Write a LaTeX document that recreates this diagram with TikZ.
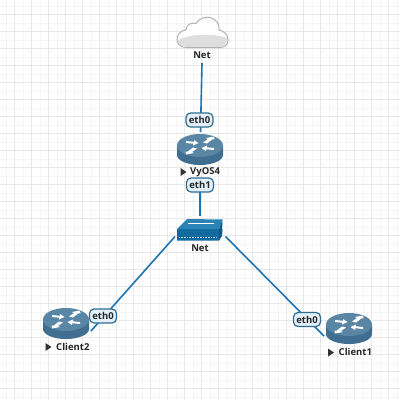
\documentclass[tikz,border=0pt]{standalone}
\usepackage{fontspec}
\setmainfont{Open Sans}
\definecolor{rtr}{HTML}{3F6E91}
\definecolor{rtrtop}{HTML}{5A86A6}
\definecolor{link}{HTML}{1C74B4}
\definecolor{swc}{HTML}{136A9E}
\definecolor{swt}{HTML}{2B82B5}
\definecolor{lblfill}{HTML}{E3F0FA}
\definecolor{lblline}{HTML}{2F6C94}
\definecolor{gmin}{HTML}{F5F5F5}
\definecolor{gmaj}{HTML}{E8E8E8}
\tikzset{
  x=1pt,y=-1pt,
  linkline/.style={draw=link,line width=1.6pt},
  portlbl/.style={draw=lblline,fill=lblfill,rounded corners=4.5pt,line width=1.2pt,inner sep=0pt,minimum width=27pt,minimum height=14pt,font=\fontsize{9.5}{10}\selectfont\bfseries,text=black!85},
  devlbl/.style={inner sep=0pt,font=\fontsize{9.5}{10}\selectfont\bfseries,text=black!85},
  devanchor/.style={inner sep=0pt,minimum width=46pt,minimum height=30pt},
  runmark/.style={fill=black!80,draw=none}
}
\newcommand{\routericon}[2]{%
  \begin{scope}[shift={(#1,#2)}]
    \fill[rtr] (-23,-3.5) -- (-23,6) arc[x radius=23,y radius=10,start angle=180,end angle=0] -- (23,-3.5) -- cycle;
    \fill[rtrtop] (0,-3.5) ellipse[x radius=23,y radius=11.5];
    \fill[white] (-14,-8) -- (-6,-7.2) -- (-6,-9) -- (-1.5,-6) -- (-7,-3.5) -- (-6.8,-5.3) -- (-14,-6) -- cycle;
    \fill[white] (14,1) -- (6,0.2) -- (6,2) -- (1.5,-1) -- (7,-3.5) -- (6.8,-1.7) -- (14,-1) -- cycle;
    \fill[white] (3,-6.5) -- (8,-10) -- (6,-11) -- (14,-12.5) -- (14.5,-9.5) -- (12.5,-9.7) -- (7,-5.5) -- cycle;
    \fill[white] (-3,-0.5) -- (-8,3) -- (-6,4) -- (-14,5.5) -- (-14.5,2.5) -- (-12.5,2.7) -- (-7,-1.5) -- cycle;
  \end{scope}}
\begin{document}
\begin{tikzpicture}
\useasboundingbox (0,0) rectangle (400,400);
\fill[white] (0,0) rectangle (400,400);
% grid
\foreach \i in {-1,...,47}{
  \pgfmathsetmacro{\p}{5.9+8.5*\i}
  \draw[gmin,line width=0.8pt] (\p,0) -- (\p,400);
  \draw[gmin,line width=0.8pt] (0,\p) -- (400,\p);
}
\foreach \i in {-1,...,23}{
  \pgfmathsetmacro{\p}{14.5+17*\i}
  \draw[gmaj,line width=0.8pt] (\p,0) -- (\p,400);
  \draw[gmaj,line width=0.8pt] (0,\p) -- (400,\p);
}
% cloud
\node[inner sep=0pt,minimum width=52pt,minimum height=31pt] (cloud) at (202.5,32.5) {};
\fill[white,draw=black!30,line width=1pt]
  (186,47.5) .. controls (180,47.5) and (177,43.5) .. (177,39.5)
  .. controls (177,34) and (181,30.5) .. (186,30)
  .. controls (186,25) and (191,22) .. (196,23.5)
  .. controls (199,18.5) and (205,16.5) .. (210,17.5)
  .. controls (216,19) and (220,24) .. (219,30)
  .. controls (224.5,31) and (228,35) .. (228,40)
  .. controls (228,44.5) and (225,47.5) .. (220,47.5) -- cycle;
\fill[black!13]
  (178,40) .. controls (190,34) and (212,33) .. (227,38)
  .. controls (228,43) and (224,46.8) .. (220,46.8) -- (186,46.8)
  .. controls (181,46.8) and (178,44) .. (178,40) -- cycle;
\node[devlbl] (netlbl) at (202,55) {Net};
% devices
\node[devanchor] (vyos) at (200,149.5) {};
\routericon{200}{149}
\node[devlbl,anchor=west] (vyoslbl) at (190,172) {VyOS4};
\fill[runmark] (180.5,168) -- (186.5,172) -- (180.5,176) -- cycle;
\node[inner sep=0pt,minimum width=46pt,minimum height=24pt] (sw) at (200,229.5) {};
\fill[swc] (177,229) -- (222.5,229) -- (222,236) -- (219,240.5) -- (177,240.5) -- cycle;
\fill[swt] (177,229) -- (187,219) -- (222.5,219.5) -- (219,229) -- cycle;
\fill[swc!85!black] (219,229) -- (222.5,219.5) -- (222,233) -- (219,240.5) -- cycle;
\draw[white,line width=.5pt] (188,223.5) -- (214,223.5);
\draw[white!70!swc,line width=1.2pt,dash pattern=on 1pt off .6pt] (179,237.5) -- (216,237.5);
\node[devlbl] (swlbl) at (200,248) {Net};
\node[devanchor] (c2) at (66,323) {};
\routericon{66}{323}
\node[devlbl,anchor=west] (c2lbl) at (56,346.5) {Client2};
\fill[runmark] (45.5,343) -- (51.5,347) -- (45.5,351) -- cycle;
\node[devanchor] (c1) at (349,328) {};
\routericon{349}{328}
\node[devlbl,anchor=west] (c1lbl) at (338.5,352) {Client1};
\fill[runmark] (328,348.5) -- (334,352.5) -- (328,356.5) -- cycle;
% links
\coordinate (cloudend) at (202,63);
\coordinate (vyostop) at (200.5,132);
\coordinate (vyosbot) at (200,189);
\coordinate (swtop) at (200,216);
\coordinate (swl) at (175,236.5);
\coordinate (swr) at (225.5,236.5);
\coordinate (c2end) at (91,331);
\coordinate (c1end) at (324,336);
\draw[linkline] (cloudend) -- (vyostop);
\draw[linkline] (vyosbot) -- (swtop);
\draw[linkline] (swl) -- (c2end);
\draw[linkline] (swr) -- (c1end);
% port labels
\node[portlbl] (p1) at (199.5,120) {eth0};
\node[portlbl] (p2) at (200,185) {eth1};
\node[portlbl] (p3) at (103,316) {eth0};
\node[portlbl] (p4) at (307,319.5) {eth0};
\end{tikzpicture}
\end{document}
